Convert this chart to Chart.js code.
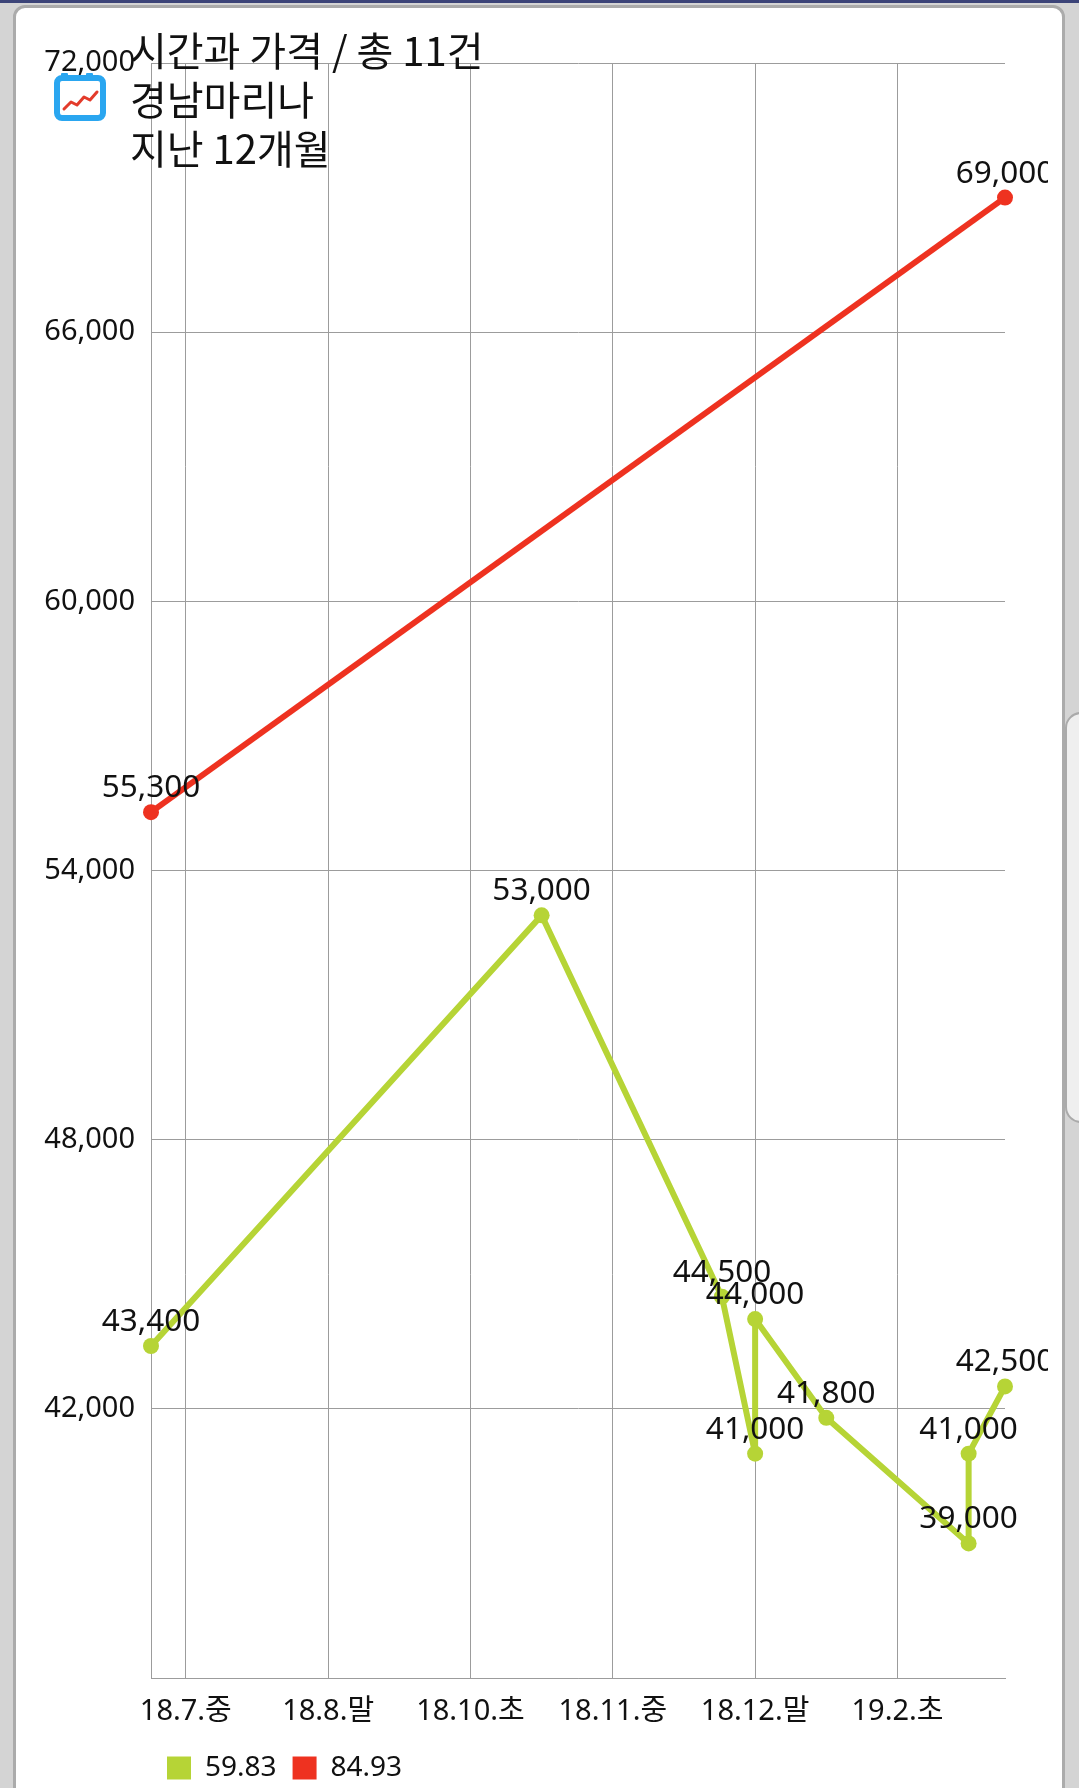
<!DOCTYPE html>
<html><head><meta charset="utf-8">
<script src="https://cdn.jsdelivr.net/npm/chart.js@4.4.1/dist/chart.umd.min.js"></script>
<style>
html,body{margin:0;padding:0;}
body{width:1079px;height:1788px;background:#d4d4d4;position:relative;overflow:hidden;font-family:'Noto Sans','Noto Sans CJK KR',sans-serif;}
#strip{position:absolute;left:0;top:0;width:1079px;height:3px;background:#3c4478;}
#card{position:absolute;left:13px;top:5px;width:1052px;height:1800px;background:#fff;border:3px solid #ababab;border-radius:12px;box-sizing:border-box;}
#scroll{position:absolute;left:1065px;top:712px;width:40px;height:411px;background:#efefef;border:2px solid #aaa;border-radius:16px;box-sizing:border-box;}
#wrap{position:absolute;left:0;top:0;width:1048px;height:1792px;}
#title{position:absolute;left:130px;top:25px;font-family:'Noto Sans CJK KR',sans-serif;font-size:40px;line-height:49px;color:#111;white-space:nowrap;}
#icon{position:absolute;left:53px;top:71px;}
</style></head>
<body>
<div id="strip"></div>
<div id="card"></div>
<div id="scroll"></div>
<div id="wrap"><canvas id="c"></canvas></div>
<div id="title">시간과 가격 / 총 11건<br>경남마리나<br>지난 12개월</div>
<svg id="icon" width="54" height="50" viewBox="0 0 54 50">
  <rect x="4" y="7" width="46" height="40" rx="5" fill="#fff" stroke="#2aa6f0" stroke-width="6"/>
  <rect x="8" y="2" width="7" height="7" rx="1" fill="#2aa6f0"/>
  <rect x="33" y="2" width="7" height="7" rx="1" fill="#2aa6f0"/>
  <polyline points="11,38 18,31 24,34 31,26 37,29 44,21" fill="none" stroke="#e33b2b" stroke-width="3" stroke-linejoin="round" stroke-linecap="round"/>
</svg>
<script>
// ---- data ----
const seriesNames = ['59.83', '84.93'];
const seriesColors = ['#b6d436', '#ee3220'];
// x values: days relative to the 18.7.중 tick
const greenX = [-11, 112.5, 169.5, 180, 180, 202.5, 247.5, 247.5, 259];
const greenY = [43400, 53000, 44500, 41000, 44000, 41800, 39000, 41000, 42500];
const redX = [-11, 259];
const redY = [55300, 69000];
const xTickValues = [0, 45, 90, 135, 180, 225];
const xTickLabels = ['18.7.중', '18.8.말', '18.10.초', '18.11.중', '18.12.말', '19.2.초'];
const yMin = 36000, yMax = 72000, yStep = 6000;

const allX = greenX.concat(redX);
const xMin = Math.min(...allX), xMax = Math.max(...allX);
const toPts = (xs, ys) => xs.map((x, i) => ({x: x, y: ys[i]}));
const fmt = v => v.toLocaleString('en-US');
const FONT = "'Noto Sans', 'Noto Sans CJK KR', sans-serif";

const valueLabels = {
  id: 'valueLabels',
  afterDatasetsDraw(chart) {
    const ctx = chart.ctx;
    ctx.save();
    ctx.font = "31.5px " + FONT;
    ctx.fillStyle = '#111';
    ctx.textAlign = 'center';
    ctx.textBaseline = 'middle';
    chart.data.datasets.forEach((ds, di) => {
      chart.getDatasetMeta(di).data.forEach((pt, i) => {
        ctx.fillText(fmt(ds.data[i].y), pt.x, pt.y - 24);
      });
    });
    ctx.restore();
  }
};

const mk = (i, pts) => ({
  label: seriesNames[i],
  data: pts,
  borderColor: seriesColors[i],
  backgroundColor: seriesColors[i],
  pointBackgroundColor: seriesColors[i],
  pointBorderWidth: 0,
  pointRadius: 8,
  borderWidth: 6,
  borderJoinStyle: 'round',
  tension: 0,
  clip: false
});

new Chart(document.getElementById('c'), {
  type: 'line',
  data: { datasets: [mk(0, toPts(greenX, greenY)), mk(1, toPts(redX, redY))] },
  options: {
    responsive: true,
    maintainAspectRatio: false,
    animation: false,
    layout: { padding: { left: 0, top: 63, right: 43, bottom: 0 } },
    plugins: {
      tooltip: { enabled: false },
      legend: {
        position: 'bottom',
        align: 'start',
        fullSize: false,
        labels: {
          boxWidth: 24, boxHeight: 23, padding: 16,
          font: { size: 28, family: FONT }, color: '#111',
          generateLabels: (chart) => chart.data.datasets.map((ds, i) => ({
            text: ds.label, fillStyle: seriesColors[i], strokeStyle: seriesColors[i],
            lineWidth: 0, hidden: false, datasetIndex: i, fontColor: '#111'
          }))
        }
      }
    },
    scales: {
      x: {
        type: 'linear', min: xMin, max: xMax,
        afterBuildTicks: (s) => { s.ticks = xTickValues.map(v => ({value: v})); },
        afterFit: (s) => { s.height = 60; },
        ticks: {
          autoSkip: false, maxRotation: 0, padding: 16,
          font: { size: 29, family: FONT }, color: '#111',
          callback: (v, i) => xTickLabels[i]
        },
        grid: { color: '#9c9c9c', lineWidth: 1, drawTicks: false },
        border: { color: '#9c9c9c', width: 1 }
      },
      y: {
        min: yMin, max: yMax,
        afterFit: (s) => { s.width = 151; },
        ticks: {
          stepSize: yStep, padding: 16,
          font: { size: 29, family: FONT }, color: '#111',
          callback: (v) => v === yMin ? '' : fmt(v)
        },
        grid: { color: '#9c9c9c', lineWidth: 1, drawTicks: false },
        border: { color: '#9c9c9c', width: 1 }
      }
    }
  },
  plugins: [valueLabels]
});
</script>
</body></html>
